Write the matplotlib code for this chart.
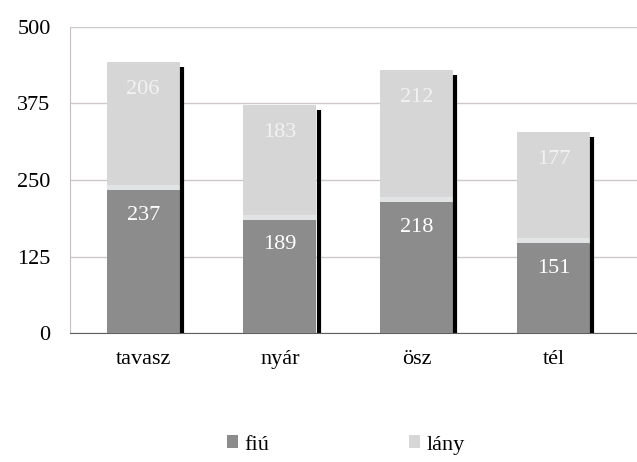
import matplotlib.pyplot as plt
import numpy as np

plt.rcParams['font.family'] = ['Liberation Serif', 'DejaVu Serif']

seasons = ['tavasz', 'nyár', 'ösz', 'tél']
fiu = [237, 189, 218, 151]
lany = [206, 183, 212, 177]
yticks = [0, 125, 250, 375, 500]

x = np.arange(len(seasons))
totals = np.array(fiu) + np.array(lany)
w = 0.534

fig = plt.figure(figsize=(6.37, 4.62), dpi=100)
ax = fig.add_axes([0.11, 0.279, 0.89, 0.663])

ax.bar(x, fiu, width=w, color='#8c8c8c', label='fiú', zorder=3)
ax.bar(x, lany, width=w, bottom=fiu, color='#d6d6d6', label='lány', zorder=3)
# thin light band at the boundary
ax.bar(x, 8, width=w, bottom=np.array(fiu) - 4, color='#e0e4e4', zorder=3)
# dark shadow line at right side
ax.vlines(x + w / 2 + 0.015, 0, totals - 8, color='black', lw=3, zorder=4)

for i in range(len(seasons)):
    ax.text(x[i], fiu[i] - 45, str(fiu[i]), ha='center', va='center',
            color='white', fontsize=16, zorder=5)
    ax.text(x[i], totals[i] - 45, str(lany[i]), ha='center', va='center',
            color='#f2f2f2', fontsize=16, zorder=5)

ax.set_xlim(-0.534, 3.61)
ax.set_ylim(0, 500)
ax.set_yticks(yticks)
ax.set_xticks(x)
ax.set_xticklabels(seasons, fontsize=16)
ax.tick_params(axis='y', labelsize=16, length=0, pad=14)
ax.tick_params(axis='x', length=0, pad=12)
ax.yaxis.grid(True, color='#cfc8c8', lw=1, zorder=0)
for s in ['top', 'right']:
    ax.spines[s].set_visible(False)
ax.spines['left'].set_color('#c8c0c0')
ax.spines['bottom'].set_color('#606060')

handles, labels = ax.get_legend_handles_labels()
fig.legend(handles, labels, loc='center', bbox_to_anchor=(0.543, 0.037), ncol=2,
           frameon=False, fontsize=16, handlelength=0.5, handleheight=0.5,
           handletextpad=0.3, columnspacing=6.3)

fig.savefig('out.png', dpi=100)
